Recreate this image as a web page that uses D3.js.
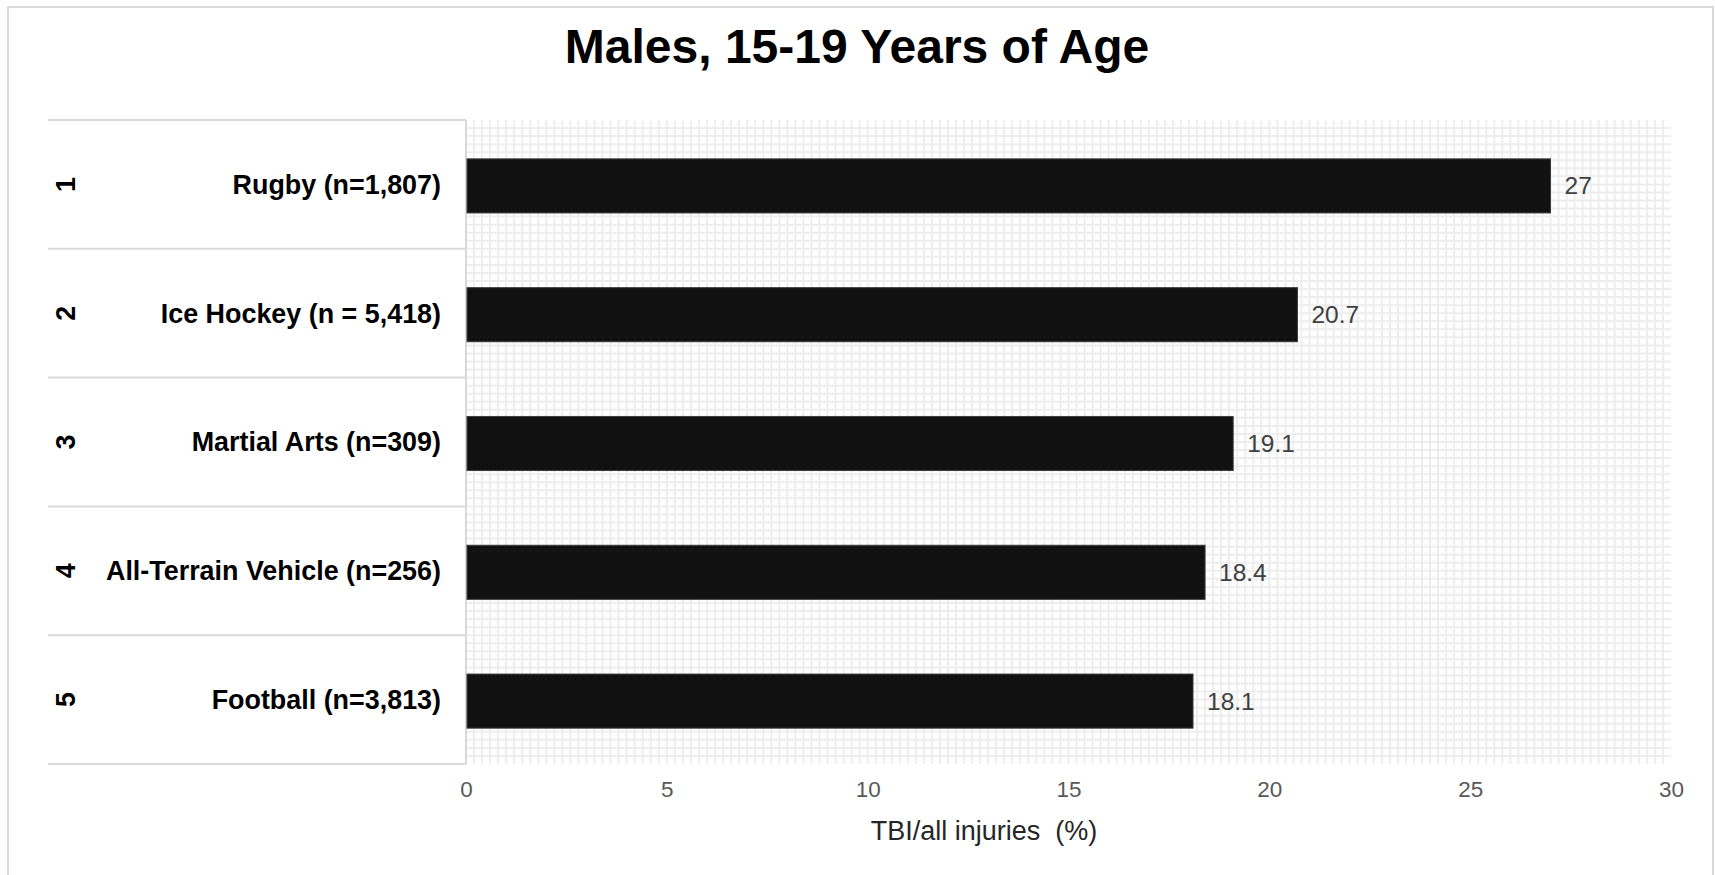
<!DOCTYPE html>
<html>
<head>
<meta charset="utf-8">
<script src="https://cdn.jsdelivr.net/npm/d3@7"></script>
<style>
  html, body { margin: 0; padding: 0; background: #fff; }
  svg { display: block; font-family: "Liberation Sans", Arial, sans-serif; }
</style>
</head>
<body>
<svg id="chart" width="1715" height="875"></svg>
<script>
// Share of injuries that were TBI, males aged 15-19, top five activities
const ranks = ["1", "2", "3", "4", "5"];
const activities = [
  "Rugby (n=1,807)",
  "Ice Hockey (n = 5,418)",
  "Martial Arts (n=309)",
  "All-Terrain Vehicle (n=256)",
  "Football (n=3,813)"
];
const tbiShare = [27, 20.7, 19.1, 18.4, 18.1];
const xTicks = [0, 5, 10, 15, 20, 25, 30];
const chartTitle = "Males, 15-19 Years of Age";
const xTitle = "TBI/all injuries\u00a0 (%)";

const svg = d3.select("#chart");

// outer chart frame
svg.append("rect")
  .attr("x", 8).attr("y", 7)
  .attr("width", 1705).attr("height", 880)
  .attr("fill", "#fff")
  .attr("stroke", "#d9d9d9").attr("stroke-width", 2);

const plot = { left: 466, right: 1671, top: 120, bottom: 764 };
const tableLeft = 48;

const x = d3.scaleLinear().domain([0, 30]).range([plot.left, plot.right]);
const y = d3.scaleBand().domain(ranks).range([plot.top, plot.bottom]).padding(0);

// fine background grid
const grid = svg.append("g").attr("stroke", "#eeeeee").attr("stroke-width", 2);
grid.selectAll("line.v")
  .data(d3.range(1, 150).map(i => i * 0.2))
  .join("line").attr("class", "v")
  .attr("x1", d => x(d)).attr("x2", d => x(d))
  .attr("y1", plot.top).attr("y2", plot.bottom);
const rowsPerBand = 16;
grid.selectAll("line.h")
  .data(d3.range(1, ranks.length * rowsPerBand))
  .join("line").attr("class", "h")
  .attr("x1", plot.left).attr("x2", plot.right)
  .attr("y1", d => plot.top + d * y.bandwidth() / rowsPerBand)
  .attr("y2", d => plot.top + d * y.bandwidth() / rowsPerBand);

// category table rules
const rules = svg.append("g").attr("stroke", "#d9d9d9").attr("stroke-width", 2);
const bounds = ranks.map(r => y(r)).concat([plot.bottom]);
rules.selectAll("line.row")
  .data(bounds)
  .join("line").attr("class", "row")
  .attr("x1", tableLeft).attr("x2", plot.left)
  .attr("y1", d => d).attr("y2", d => d);
rules.append("line")
  .attr("x1", plot.left).attr("x2", plot.left)
  .attr("y1", plot.top).attr("y2", plot.bottom);

// bars
const barFrac = 0.42;
svg.append("g").selectAll("rect")
  .data(tbiShare)
  .join("rect")
  .attr("x", x(0) + 1)
  .attr("y", (d, i) => y(ranks[i]) + y.bandwidth() * (1 - barFrac) / 2 + 1.5)
  .attr("width", d => x(d) - x(0) - 1)
  .attr("height", y.bandwidth() * barFrac)
  .attr("fill", "#111111")
  .attr("stroke", "#3c3c3c").attr("stroke-width", 1);

// value labels
svg.append("g").selectAll("text")
  .data(tbiShare)
  .join("text")
  .attr("x", d => x(d) + 14)
  .attr("y", (d, i) => y(ranks[i]) + y.bandwidth() / 2 + 1.5)
  .attr("dy", "0.35em")
  .attr("font-size", 24.5)
  .attr("fill", "#404040")
  .text(d => d3.format("~g")(d));

// activity labels
svg.append("g").selectAll("text")
  .data(activities)
  .join("text")
  .attr("x", 441)
  .attr("y", (d, i) => y(ranks[i]) + y.bandwidth() / 2)
  .attr("dy", "0.35em")
  .attr("text-anchor", "end")
  .attr("font-size", 26.9)
  .attr("font-weight", "bold")
  .attr("fill", "#000")
  .text(d => d);

// rank numbers, rotated
svg.append("g").selectAll("text")
  .data(ranks)
  .join("text")
  .attr("transform", d => `translate(66,${y(d) + y.bandwidth() / 2}) rotate(-90)`)
  .attr("dy", "0.35em")
  .attr("text-anchor", "middle")
  .attr("font-size", 26.9)
  .attr("font-weight", "bold")
  .attr("fill", "#000")
  .text(d => d);

// x axis
const xAxis = svg.append("g")
  .attr("transform", `translate(0,${plot.bottom})`)
  .call(d3.axisBottom(x).tickValues(xTicks).tickSize(0).tickPadding(17));
xAxis.select(".domain").remove();
xAxis.selectAll("text")
  .attr("font-family", "Liberation Sans, Arial, sans-serif")
  .attr("font-size", 22.5)
  .attr("fill", "#595959");

// axis title
svg.append("text")
  .attr("x", 984)
  .attr("y", 831)
  .attr("dy", "0.35em")
  .attr("text-anchor", "middle")
  .attr("font-size", 27)
  .attr("fill", "#262626")
  .text(xTitle);

// chart title
svg.append("text")
  .attr("x", 857)
  .attr("y", 63)
  .attr("text-anchor", "middle")
  .attr("font-size", 48)
  .attr("font-weight", "bold")
  .attr("fill", "#000")
  .text(chartTitle);
</script>
</body>
</html>
